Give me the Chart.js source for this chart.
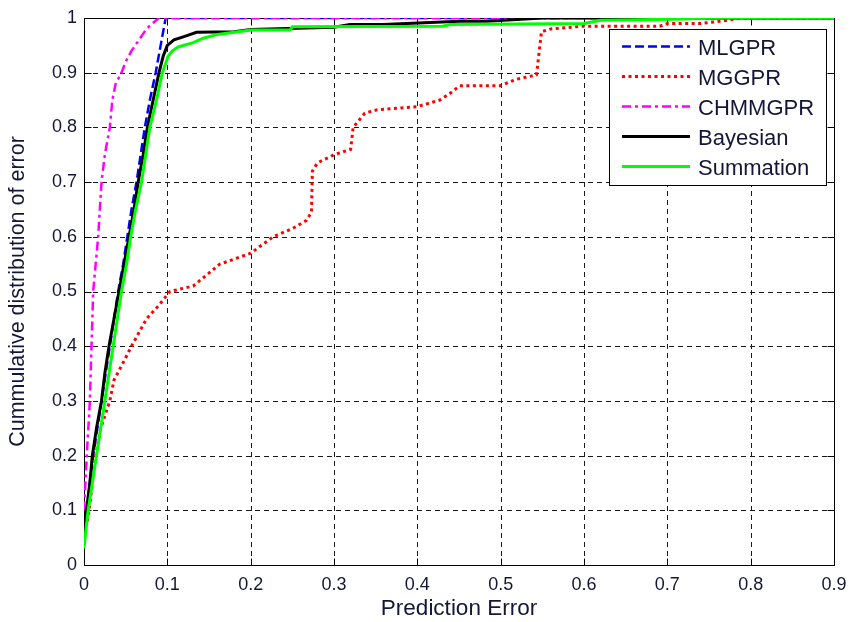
<!DOCTYPE html>
<html><head><meta charset="utf-8">
<script src="https://cdn.jsdelivr.net/npm/chart.js@4/dist/chart.umd.min.js"></script>
<style>html,body{margin:0;padding:0;background:#fff}#wrap{width:850px;height:622px}</style>
</head><body><div id="wrap"><canvas id="c" width="850" height="622"></canvas></div>
<script>
// ---- data ----
const seriesNames = ['MLGPR', 'MGGPR', 'CHMMGPR', 'Bayesian', 'Summation'];

const mlgprX = [0, 0.003, 0.007, 0.011, 0.016, 0.021, 0.026, 0.031, 0.036, 0.041, 0.047, 0.052, 0.057, 0.063, 0.068, 0.073, 0.079, 0.086, 0.092, 0.098, 0.900];
const mlgprY = [0.05, 0.10, 0.15, 0.20, 0.25, 0.30, 0.35, 0.40, 0.45, 0.50, 0.55, 0.60, 0.65, 0.70, 0.75, 0.80, 0.85, 0.90, 0.95, 1.00, 1.00];

const mggprX = [0.004, 0.007, 0.010, 0.014, 0.020, 0.031, 0.036, 0.047, 0.057, 0.075, 0.090, 0.103, 0.131, 0.163, 0.200, 0.227, 0.250, 0.267, 0.273, 0.274, 0.280, 0.300, 0.320, 0.323, 0.337, 0.351, 0.400, 0.427, 0.439, 0.451, 0.499, 0.519, 0.543, 0.549, 0.560, 0.599, 0.691, 0.700, 0.740, 0.763, 0.790, 0.900];
const mggprY = [0.08, 0.11, 0.15, 0.20, 0.25, 0.30, 0.338, 0.37, 0.40, 0.45, 0.475, 0.50, 0.51, 0.55, 0.57, 0.60, 0.615, 0.63, 0.645, 0.72, 0.735, 0.75, 0.76, 0.80, 0.826, 0.832, 0.838, 0.850, 0.862, 0.876, 0.876, 0.888, 0.896, 0.975, 0.980, 0.985, 0.985, 0.990, 0.990, 0.994, 1.00, 1.00];

const chmmgprX = [0, 0.002, 0.004, 0.006, 0.007, 0.009, 0.011, 0.014, 0.017, 0.019, 0.021, 0.025, 0.031, 0.034, 0.038, 0.045, 0.050, 0.057, 0.066, 0.075, 0.082, 0.090, 0.900];
const chmmgprY = [0.10, 0.16, 0.22, 0.27, 0.30, 0.40, 0.50, 0.55, 0.60, 0.65, 0.70, 0.75, 0.80, 0.85, 0.88, 0.90, 0.92, 0.94, 0.96, 0.98, 0.99, 1.00, 1.00];

const bayesX = [0, 0.003, 0.007, 0.010, 0.015, 0.021, 0.025, 0.030, 0.036, 0.042, 0.048, 0.054, 0.060, 0.065, 0.071, 0.076, 0.083, 0.090, 0.095, 0.100, 0.108, 0.120, 0.135, 0.180, 0.200, 0.300, 0.319, 0.359, 0.451, 0.483, 0.550, 0.900];
const bayesY = [0.05, 0.10, 0.15, 0.20, 0.25, 0.30, 0.35, 0.40, 0.45, 0.50, 0.55, 0.60, 0.65, 0.70, 0.75, 0.80, 0.85, 0.90, 0.93, 0.95, 0.96, 0.966, 0.974, 0.975, 0.979, 0.983, 0.988, 0.988, 0.994, 0.994, 1.00, 1.00];

const sumX = [0, 0.002, 0.005, 0.010, 0.015, 0.020, 0.025, 0.030, 0.035, 0.040, 0.045, 0.051, 0.056, 0.062, 0.069, 0.074, 0.079, 0.087, 0.094, 0.101, 0.106, 0.113, 0.131, 0.143, 0.160, 0.200, 0.247, 0.250, 0.430, 0.440, 0.600, 0.620, 0.720, 0.750, 0.900];
const sumY = [0.03, 0.06, 0.10, 0.15, 0.20, 0.25, 0.30, 0.35, 0.40, 0.45, 0.50, 0.55, 0.60, 0.65, 0.70, 0.75, 0.80, 0.85, 0.90, 0.93, 0.94, 0.947, 0.955, 0.963, 0.970, 0.978, 0.978, 0.984, 0.985, 0.988, 0.990, 0.996, 0.998, 1.00, 1.00];

const xTicks = [0, 0.1, 0.2, 0.3, 0.4, 0.5, 0.6, 0.7, 0.8, 0.9];
const xTickLabels = ['0', '0.1', '0.2', '0.3', '0.4', '0.5', '0.6', '0.7', '0.8', '0.9'];
const yTicks = [0, 0.1, 0.2, 0.3, 0.4, 0.5, 0.6, 0.7, 0.8, 0.9, 1];
const yTickLabels = ['0', '0.1', '0.2', '0.3', '0.4', '0.5', '0.6', '0.7', '0.8', '0.9', '1'];

const xTitle = 'Prediction Error';
const yTitle = 'Cummulative distribution of error';

// ---- build ----
const FONT = '"Liberation Sans", Arial, sans-serif';
const TXT = '#15153a';
const pts = (xs, ys) => xs.map((x, i) => ({ x: x, y: ys[i] }));

const datasets = [
  { label: seriesNames[0], data: pts(mlgprX, mlgprY), borderColor: '#0000ff', borderWidth: 2.5, borderDash: [9, 4], order: 5 },
  { label: seriesNames[1], data: pts(mggprX, mggprY), borderColor: '#ff0000', borderWidth: 3, borderDash: [3, 3.5], order: 4 },
  { label: seriesNames[2], data: pts(chmmgprX, chmmgprY), borderColor: '#ff00ff', borderWidth: 2.5, borderDash: [9, 4, 3, 4], order: 3 },
  { label: seriesNames[3], data: pts(bayesX, bayesY), borderColor: '#000000', borderWidth: 3, borderDash: [], order: 2 },
  { label: seriesNames[4], data: pts(sumX, sumY), borderColor: '#00ff00', borderWidth: 3, borderDash: [], order: 1 }
].map(d => Object.assign(d, { pointRadius: 0, fill: false, tension: 0, showLine: true }));

const framePlugin = {
  id: 'frame',
  beforeDatasetsDraw(chart) {
    const { ctx, chartArea: ca, scales: { x, y } } = chart;
    ctx.save();
    ctx.strokeStyle = '#1a1a1a';
    ctx.lineWidth = 1;
    ctx.setLineDash([5, 4]);
    xTicks.forEach(v => {
      const px = Math.round(x.getPixelForValue(v)) + 0.5;
      if (px <= ca.left + 1 || px >= ca.right - 1) return;
      ctx.beginPath(); ctx.moveTo(px, ca.bottom); ctx.lineTo(px, ca.top); ctx.stroke();
    });
    yTicks.forEach(v => {
      const py = Math.round(y.getPixelForValue(v)) + 0.5;
      if (py <= ca.top + 1 || py >= ca.bottom - 1) return;
      ctx.beginPath(); ctx.moveTo(ca.left, py); ctx.lineTo(ca.right, py); ctx.stroke();
    });
    ctx.setLineDash([]);
    ctx.strokeStyle = '#000';
    const L = Math.round(ca.left) + 0.5, R = Math.round(ca.right) + 0.5;
    const T = Math.round(ca.top) + 0.5, B = Math.round(ca.bottom) + 0.5;
    const tl = 7;
    xTicks.forEach(v => {
      const px = Math.round(x.getPixelForValue(v)) + 0.5;
      ctx.beginPath(); ctx.moveTo(px, B); ctx.lineTo(px, B - tl); ctx.moveTo(px, T); ctx.lineTo(px, T + tl); ctx.stroke();
    });
    yTicks.forEach(v => {
      const py = Math.round(y.getPixelForValue(v)) + 0.5;
      ctx.beginPath(); ctx.moveTo(L, py); ctx.lineTo(L + tl, py); ctx.moveTo(R, py); ctx.lineTo(R - tl, py); ctx.stroke();
    });
    ctx.strokeRect(L, T, R - L, B - T);
    ctx.restore();
  },
  afterDraw(chart) {
    const { ctx, chartArea: ca } = chart;
    ctx.save();
    ctx.font = '22px ' + FONT;
    const ds = chart.data.datasets;
    let maxW = 0;
    ds.forEach(d => { maxW = Math.max(maxW, ctx.measureText(d.label).width); });
    const padL = 13, lineLen = 68, gap = 8, padR = 12, rowH = 30, padT = 17.5, padB = 18.5;
    const boxW = Math.round(padL + lineLen + gap + maxW + padR);
    const boxH = Math.round(padT + rowH * (ds.length - 1) + padB);
    const right = Math.round(ca.right) - 8;
    const top = Math.round(ca.top) + 11;
    const left = right - boxW;
    ctx.fillStyle = '#fff';
    ctx.fillRect(left, top, boxW, boxH);
    ctx.strokeStyle = '#000'; ctx.lineWidth = 1;
    ctx.strokeRect(left + 0.5, top + 0.5, boxW, boxH);
    ds.forEach((d, i) => {
      const yy = top + padT + i * rowH;
      ctx.save();
      ctx.strokeStyle = d.borderColor;
      ctx.lineWidth = d.borderWidth;
      ctx.setLineDash(d.borderDash || []);
      ctx.beginPath(); ctx.moveTo(left + padL, yy); ctx.lineTo(left + padL + lineLen, yy); ctx.stroke();
      ctx.restore();
      ctx.fillStyle = TXT;
      ctx.textBaseline = 'middle';
      ctx.textAlign = 'left';
      ctx.fillText(d.label, left + padL + lineLen + gap, yy + 2);
    });
    ctx.restore();
  }
};

new Chart(document.getElementById('c'), {
  type: 'line',
  data: { datasets: datasets },
  options: {
    responsive: false,
    animation: false,
    layout: { padding: { left: 0, right: 16, top: 18, bottom: 0 } },
    plugins: { legend: { display: false }, tooltip: { enabled: false }, title: { display: false } },
    scales: {
      x: {
        type: 'linear', min: 0, max: 0.9,
        afterBuildTicks: s => { s.ticks = xTicks.map(v => ({ value: v })); },
        afterFit: s => { s.height = 57; s.paddingLeft = 0; s.paddingRight = 0; },
        grid: { display: false, drawTicks: false },
        border: { display: false },
        ticks: { padding: 9, autoSkip: false, maxRotation: 0, color: TXT, font: { family: FONT, size: 18 },
          callback: (v, i) => xTickLabels[i] },
        title: { display: true, text: xTitle, color: TXT, font: { family: FONT, size: 22.5 }, padding: { top: 0, bottom: 0 } }
      },
      y: {
        type: 'linear', min: 0, max: 1,
        afterBuildTicks: s => { s.ticks = yTicks.map(v => ({ value: v })); },
        afterFit: s => { s.width = 84; s.paddingTop = 0; s.paddingBottom = 0; },
        grid: { display: false, drawTicks: false },
        border: { display: false },
        ticks: { padding: 7, autoSkip: false, color: TXT, font: { family: FONT, size: 18 },
          callback: (v, i) => yTickLabels[i] },
        title: { display: true, text: yTitle, color: TXT, font: { family: FONT, size: 21.5 }, padding: { top: 5, bottom: 0 } }
      }
    }
  },
  plugins: [framePlugin]
});
</script>
</body></html>
